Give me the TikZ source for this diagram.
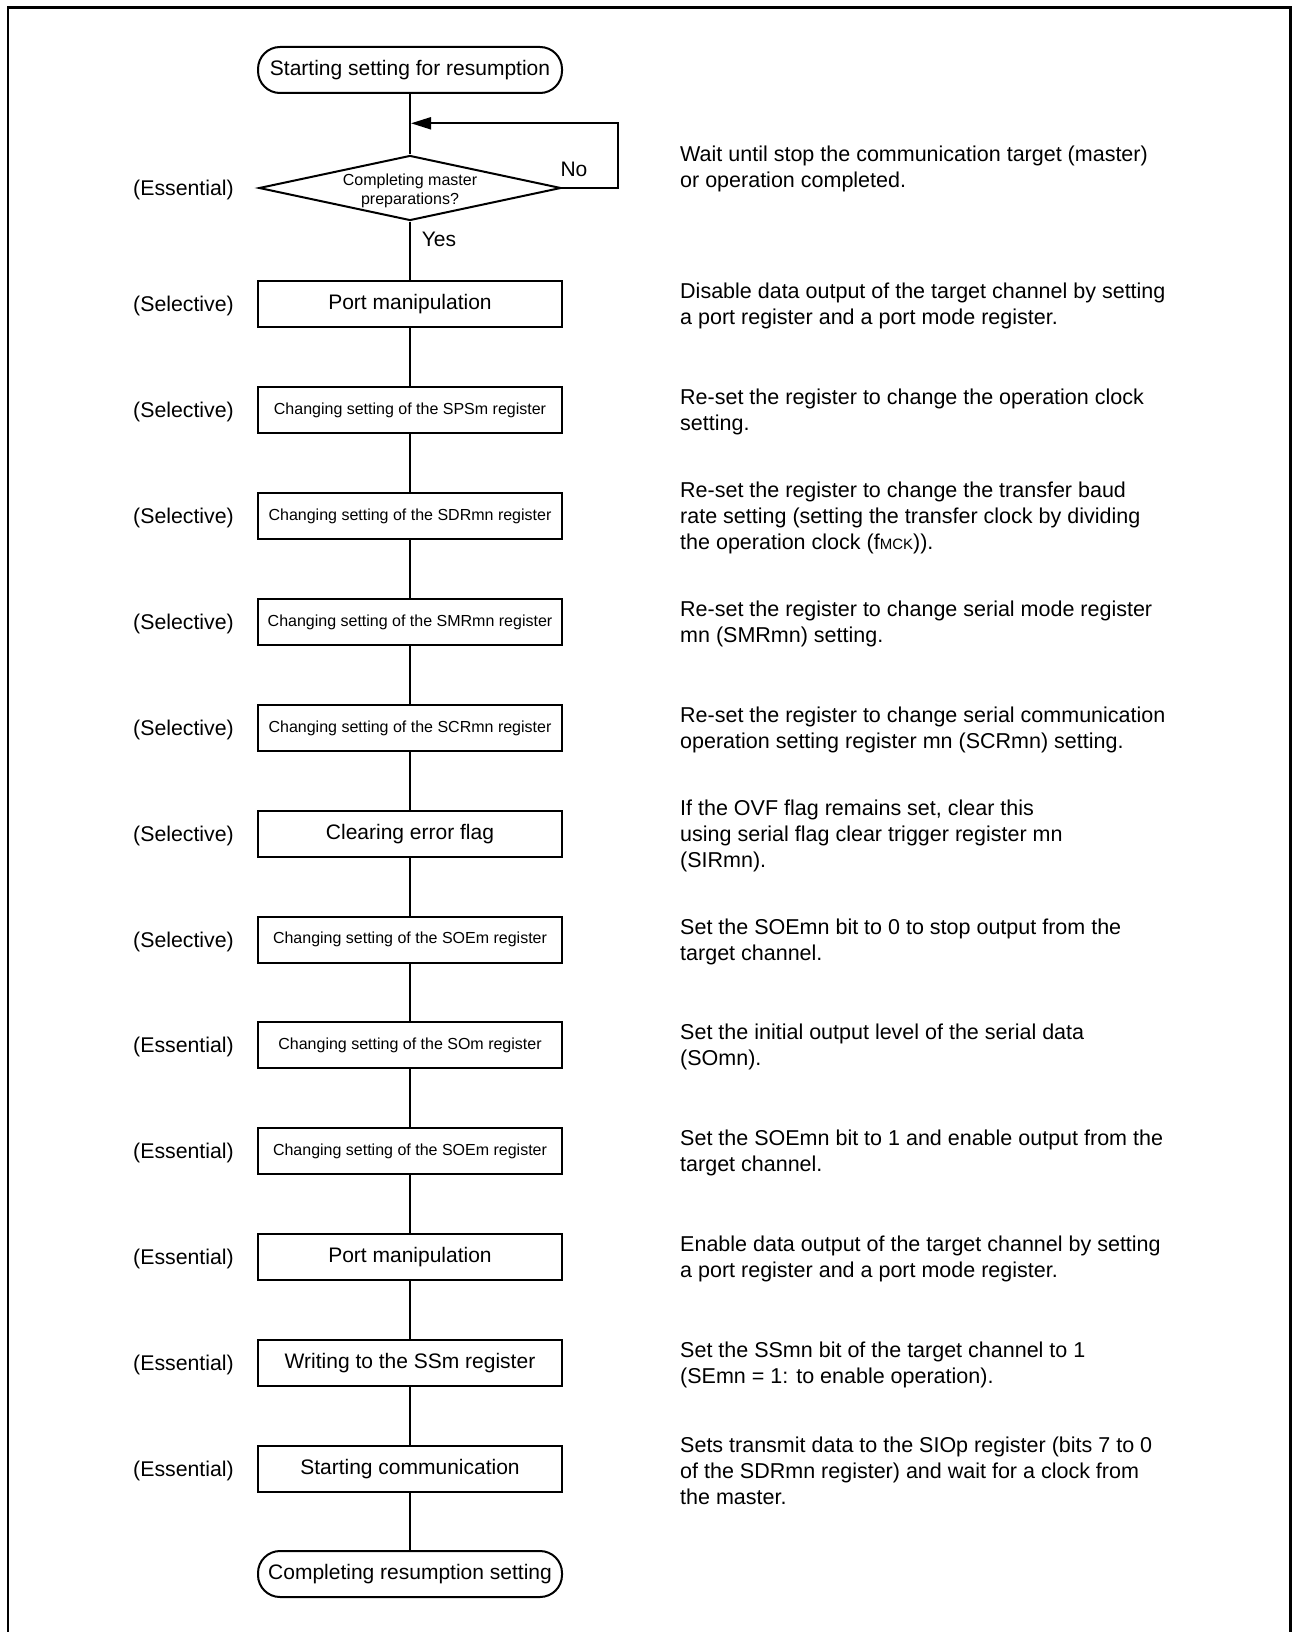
\documentclass[tikz,border=0pt]{standalone}
\usepackage{fontspec}
\setmainfont{Liberation Sans}
\usetikzlibrary{arrows.meta,shapes.geometric}
\tikzset{
  ln/.style={line width=2pt},
  procbox/.style={draw, line width=2pt, rectangle, minimum width=304pt, minimum height=46pt, inner sep=0pt, font=\fontsize{21}{25}\selectfont},
  smallbox/.style={procbox, font=\fontsize{16}{19}\selectfont},
  term/.style={procbox, rounded corners=22pt},
  decision/.style={draw, line width=2pt, diamond, minimum width=302pt, minimum height=65pt, inner sep=0pt},
  smalltxt/.style={font=\fontsize{16}{19}\selectfont, inner sep=0pt, align=center, yshift=-2pt},
  lefttxt/.style={anchor=west, inner sep=0pt, font=\fontsize{21.3}{26}\selectfont, yshift=-2pt},
  righttxt/.style={anchor=west, inner sep=0pt, align=left, font=\fontsize{21.5}{26}\selectfont, yshift=-2pt},
  yn/.style={inner sep=0pt, font=\fontsize{21}{25}\selectfont},
}
\begin{document}
\begin{tikzpicture}[x=1pt,y=-1pt]
\useasboundingbox (0,0) rectangle (1292,1632);
\draw[line width=2.7pt] (8,1632) -- (8,7.3) -- (1290.5,7.3) -- (1290.5,1632);

% flow nodes
\node[term] (start) at (410,70) {Starting setting for resumption};
\node[decision] (dec) at (410,188) {};
\node[smalltxt] (dectxt) at (410,189) {Completing master\\preparations?};
\node[procbox]  (b1)  at (410,304)  {Port manipulation};
\node[smallbox] (b2)  at (410,410)  {Changing setting of the SPSm register};
\node[smallbox] (b3)  at (410,516)  {Changing setting of the SDRmn register};
\node[smallbox] (b4)  at (410,622)  {Changing setting of the SMRmn register};
\node[smallbox] (b5)  at (410,728)  {Changing setting of the SCRmn register};
\node[procbox]  (b6)  at (410,834)  {Clearing error flag};
\node[smallbox] (b7)  at (410,939.5){Changing setting of the SOEm register};
\node[smallbox] (b8)  at (410,1045) {Changing setting of the SOm register};
\node[smallbox] (b9)  at (410,1151) {Changing setting of the SOEm register};
\node[procbox]  (b10) at (410,1257) {Port manipulation};
\node[procbox]  (b11) at (410,1363) {Writing to the SSm register};
\node[procbox]  (b12) at (410,1469) {Starting communication};
\node[term]     (end) at (410,1574) {Completing resumption setting};

% connectors
\draw[ln] (start) -- (dec);
\draw[ln] (dec) -- (b1);
\foreach \a/\b in {b1/b2,b2/b3,b3/b4,b4/b5,b5/b6,b6/b7,b7/b8,b8/b9,b9/b10,b10/b11,b11/b12,b12/end}
  \draw[ln] (\a) -- (\b);
\coordinate (fbr) at (618,123.3);
\coordinate (fbl) at (411,123.3);
\draw[ln, -{Triangle[length=20pt,width=12pt]}] (dec.east) -| (fbr) -- (fbl);
\node[yn] (no) at (574,169) {No};
\node[yn] (yes) at (439,239) {Yes};

% left labels
\node[lefttxt] (l0)  at (133,188)  {(Essential)};
\node[lefttxt] (l1)  at (133,304)  {(Selective)};
\node[lefttxt] (l2)  at (133,410)  {(Selective)};
\node[lefttxt] (l3)  at (133,516)  {(Selective)};
\node[lefttxt] (l4)  at (133,622)  {(Selective)};
\node[lefttxt] (l5)  at (133,728)  {(Selective)};
\node[lefttxt] (l6)  at (133,834)  {(Selective)};
\node[lefttxt] (l7)  at (133,939.5){(Selective)};
\node[lefttxt] (l8)  at (133,1045) {(Essential)};
\node[lefttxt] (l9)  at (133,1151) {(Essential)};
\node[lefttxt] (l10) at (133,1257) {(Essential)};
\node[lefttxt] (l11) at (133,1363) {(Essential)};
\node[lefttxt] (l12) at (133,1469) {(Essential)};

% right descriptions
\node[righttxt] (r0)  at (680,167)  {Wait until stop the communication target (master)\\or operation completed.};
\node[righttxt] (r1)  at (680,304)  {Disable data output of the target channel by setting\\a port register and a port mode register.};
\node[righttxt] (r2)  at (680,410)  {Re-set the register to change the operation clock\\setting.};
\node[righttxt] (r3)  at (680,516)  {Re-set the register to change the transfer baud\\rate setting (setting the transfer clock by dividing\\the operation clock (f{\fontsize{15}{15}\selectfont MCK})).};
\node[righttxt] (r4)  at (680,622)  {Re-set the register to change serial mode register\\mn (SMRmn) setting.};
\node[righttxt] (r5)  at (680,728)  {Re-set the register to change serial communication\\operation setting register mn (SCRmn) setting.};
\node[righttxt] (r6)  at (680,834)  {If the OVF flag remains set, clear this\\using serial flag clear trigger register mn\\(SIRmn).};
\node[righttxt] (r7)  at (680,939.5){Set the SOEmn bit to 0 to stop output from the\\target channel.};
\node[righttxt] (r8)  at (680,1045) {Set the initial output level of the serial data\\(SOmn).};
\node[righttxt] (r9)  at (680,1151) {Set the SOEmn bit to 1 and enable output from the\\target channel.};
\node[righttxt] (r10) at (680,1257) {Enable data output of the target channel by setting\\a port register and a port mode register.};
\node[righttxt] (r11) at (680,1363) {Set the SSmn bit of the target channel to 1\\(SEmn = 1: to enable operation).};
\node[righttxt] (r12) at (680,1469) {Sets transmit data to the SIOp register (bits 7 to 0\\of the SDRmn register) and wait for a clock from\\the master.};
\end{tikzpicture}
\end{document}
